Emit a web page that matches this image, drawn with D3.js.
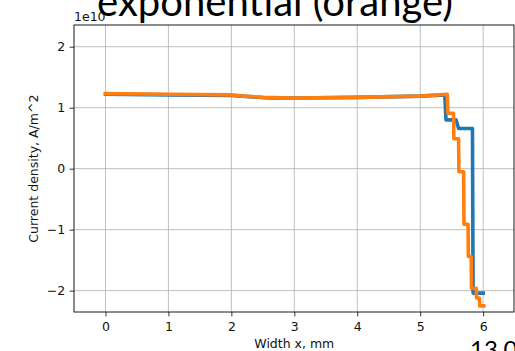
<!DOCTYPE html>
<html>
<head>
<meta charset="utf-8">
<script src="https://cdn.jsdelivr.net/npm/d3@7"></script>
<style>
  html, body { margin: 0; padding: 0; background: #fff; }
  svg { display: block; }
</style>
</head>
<body>
<svg id="chart" width="515" height="351"></svg>
<script>
// Current density profile across the strip width (units of 1e10 A/m^2)
const blueX = [0, 1, 2, 2.6, 3, 4, 5, 5.39, 5.41, 5.57, 5.61, 5.83, 5.84, 6.0];
const blueY = [1.22, 1.21, 1.20, 1.16, 1.16, 1.17, 1.19, 1.21, 0.80, 0.80, 0.66, 0.66, -2.04, -2.04];

const orangeX = [0, 1, 2, 2.2, 2.5, 3, 4, 5, 5.43, 5.44, 5.53, 5.535, 5.61, 5.615, 5.69, 5.695,
                 5.76, 5.765, 5.81, 5.815, 5.89, 5.895, 5.94, 5.945, 6.01];
const orangeY = [1.23, 1.22, 1.21, 1.19, 1.17, 1.16, 1.17, 1.19, 1.22, 0.91, 0.91, 0.49, 0.49, -0.05, -0.05, -0.91,
                 -0.91, -1.44, -1.44, -1.96, -1.96, -2.12, -2.12, -2.25, -2.25];

const xTicks = [0, 1, 2, 3, 4, 5, 6];
const yTicks = [-2, -1, 0, 1, 2];

const titleText = "exponential (orange)";
const cornerText = "13.0";

const svg = d3.select("#chart");
const W = 515, H = 351;
const plot = { left: 74, right: 514, top: 25, bottom: 312 };

svg.append("rect").attr("width", W).attr("height", H).attr("fill", "#fff");

const x = d3.scaleLinear().domain([-0.5, 6.49]).range([plot.left, plot.right]);
const y = d3.scaleLinear().domain([-2.35, 2.356]).range([plot.bottom, plot.top]);

const axisFont = "DejaVu Sans, sans-serif";
const axisSize = "12.5px";

// grid
const grid = svg.append("g").attr("stroke", "#b0b0b0").attr("stroke-width", 0.8);
grid.selectAll("line.gx").data(xTicks).join("line")
  .attr("x1", d => x(d)).attr("x2", d => x(d))
  .attr("y1", plot.top).attr("y2", plot.bottom);
grid.selectAll("line.gy").data(yTicks).join("line")
  .attr("x1", plot.left).attr("x2", plot.right)
  .attr("y1", d => y(d)).attr("y2", d => y(d));

// lines
const line = d3.line().x(d => x(d[0])).y(d => y(d[1]));
const series = [
  { xs: blueX, ys: blueY, color: "#1f77b4" },
  { xs: orangeX, ys: orangeY, color: "#ff7f0e" }
];
svg.append("clipPath").attr("id", "clip").append("rect")
  .attr("x", plot.left).attr("y", plot.top)
  .attr("width", plot.right - plot.left).attr("height", plot.bottom - plot.top);
svg.append("g").attr("clip-path", "url(#clip)")
  .selectAll("path").data(series).join("path")
  .attr("d", s => line(s.xs.map((v, i) => [v, s.ys[i]])))
  .attr("fill", "none")
  .attr("stroke", s => s.color)
  .attr("stroke-width", 3.6)
  .attr("stroke-linejoin", "round")
  .attr("stroke-linecap", "square");

// axes
const xAxis = svg.append("g").attr("transform", `translate(0,${plot.bottom})`)
  .call(d3.axisBottom(x).tickValues(xTicks).tickSize(4.4).tickPadding(5.4).tickFormat(d3.format("d")));
const yAxis = svg.append("g").attr("transform", `translate(${plot.left},0)`)
  .call(d3.axisLeft(y).tickValues(yTicks).tickSize(4.4).tickPadding(4.4).tickFormat(d => d < 0 ? "\u2212" + Math.abs(d) : d));
[xAxis, yAxis].forEach(a => {
  a.select(".domain").remove();
  a.selectAll("line").attr("stroke", "#000").attr("stroke-width", 0.8);
  a.selectAll("text").attr("fill", "#111").style("font-family", axisFont).style("font-size", axisSize);
});

// frame
svg.append("rect")
  .attr("x", plot.left).attr("y", plot.top)
  .attr("width", plot.right - plot.left).attr("height", plot.bottom - plot.top)
  .attr("fill", "none").attr("stroke", "#000").attr("stroke-width", 0.9);

// axis labels
svg.append("text").attr("x", x(3)).attr("y", 348.4).attr("text-anchor", "middle")
  .style("font-family", axisFont).style("font-size", axisSize).attr("fill", "#111")
  .text("Width x, mm");
svg.append("text").attr("transform", `translate(37.5,${y(0)}) rotate(-90)`).attr("text-anchor", "middle")
  .style("font-family", axisFont).style("font-size", axisSize).attr("fill", "#111")
  .text("Current density, A/m^2");

// offset text
svg.append("text").attr("x", plot.left).attr("y", 20.7)
  .style("font-family", axisFont).style("font-size", axisSize).attr("fill", "#111")
  .text("1e10");

// overlaid slide captions
const title = svg.append("text").attr("x", 97).attr("y", 15.5)
  .style("font-family", "Lato, 'Open Sans', sans-serif").style("font-size", "42px").attr("fill", "#000")
  .text(titleText);
const tw = title.node().getComputedTextLength();
title.style("font-size", (42 * 356 / tw).toFixed(2) + "px");

svg.append("text").attr("x", 470).attr("y", 358)
  .style("font-family", "Lato, 'Open Sans', sans-serif").style("font-size", "24px").attr("fill", "#000")
  .text(cornerText);
</script>
</body>
</html>
